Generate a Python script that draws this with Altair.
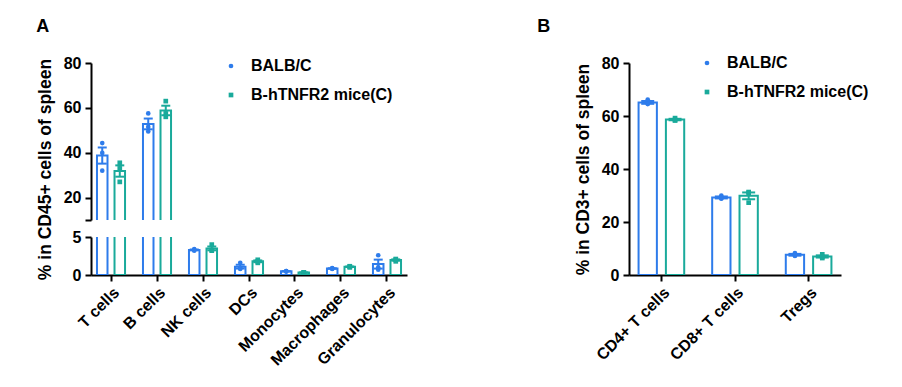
import altair as alt
import pandas as pd

# ---------------- data ----------------
groups = ["BALB/C", "B-hTNFR2 mice(C)"]
colors = ["#2E7CEB", "#1AAA9B"]
shapes = ["circle", "square"]

cells_a = ["T cells", "B cells", "NK cells", "DCs", "Monocytes", "Macrophages", "Granulocytes"]
balb_a = [[44.3, 39.9, 32.0], [57.5, 51.5, 49.5], [3.4, 3.3, 3.2], [1.6, 0.9, 0.8],
          [0.5, 0.5, 0.45], [0.9, 0.85, 0.8], [2.6, 1.0, 0.7]]
tnfr2_a = [[35.5, 33.0, 27.0], [63.0, 57.5, 56.0], [4.0, 3.3, 3.2], [2.0, 1.8, 1.6],
           [0.35, 0.3, 0.3], [1.15, 1.1, 1.0], [2.1, 2.0, 1.8]]

cells_b = ["CD4+ T cells", "CD8+ T cells", "Tregs"]
balb_b = [[66.2, 64.7, 64.5], [30.0, 29.0, 28.8], [8.3, 7.4, 7.2]]
tnfr2_b = [[59.2, 58.5, 58.3], [31.3, 31.0, 27.3], [7.8, 6.8, 6.4]]

upper_ticks_a = [10, 20, 40, 60, 80]
lower_ticks_a = [0, 5]
ticks_b = [0, 20, 40, 60, 80]


def to_long(cells, a, b):
    rows = []
    for c, va, vb in zip(cells, a, b):
        for v in va:
            rows.append({"cell": c, "group": groups[0], "value": v})
        for v in vb:
            rows.append({"cell": c, "group": groups[1], "value": v})
    return pd.DataFrame(rows)


df_a = to_long(cells_a, balb_a, tnfr2_a)
df_b = to_long(cells_b, balb_b, tnfr2_b)

FONT = "Liberation Sans"


def make_legend(lx, ly):
    return alt.Legend(orient="none", legendX=lx, legendY=ly, title=None,
                      labelFont=FONT, labelFontSize=16, labelFontWeight="bold",
                      labelColor="black", symbolSize=22, rowPadding=13,
                      labelOffset=12, padding=0, symbolStrokeWidth=0)


def panel(df, cells, y_domain, y_axis, x_axis, x_scale, off_scale, cap, legend, w, h):
    base = alt.Chart(df)
    x = alt.X("cell:N", sort=cells, scale=x_scale, axis=x_axis, title=None)
    xo = alt.XOffset("group:N", sort=groups, scale=off_scale)
    ys = alt.Scale(domain=y_domain, nice=False, zero=False)
    stats = base.transform_aggregate(
        mean="mean(value)", se="stderr(value)", groupby=["cell", "group"]
    ).transform_calculate(lo="datum.mean - datum.se", hi="datum.mean + datum.se")
    stroke = alt.Stroke("group:N", scale=alt.Scale(domain=groups, range=colors), legend=None)
    fill = alt.Fill("group:N", scale=alt.Scale(domain=groups, range=colors), legend=None)

    bars = stats.mark_bar(fill="white", strokeWidth=2, clip=True).encode(
        x=x, xOffset=xo, y=alt.Y("mean:Q", scale=ys, axis=y_axis),
        y2=alt.datum(0), stroke=stroke)
    rule = stats.mark_rule(strokeWidth=2, clip=True).encode(
        x=x, xOffset=xo, y=alt.Y("lo:Q", scale=ys, axis=y_axis), y2="hi:Q", stroke=stroke)
    caps = stats.transform_fold(["lo", "hi"], as_=["k", "v"]).mark_tick(
        thickness=2, size=cap, clip=True, opacity=1).encode(
        x=x, xOffset=xo, y=alt.Y("v:Q", scale=ys, axis=y_axis), fill=fill)
    pts = base.mark_point(filled=True, size=22, opacity=1, clip=True).encode(
        x=x, xOffset=xo, y=alt.Y("value:Q", scale=ys, axis=y_axis),
        color=alt.Color("group:N", scale=alt.Scale(domain=groups, range=colors), legend=legend),
        shape=alt.Shape("group:N", scale=alt.Scale(domain=groups, range=shapes), legend=legend))
    return alt.layer(bars, rule, caps, pts).properties(width=w, height=h)


axis_common = dict(domainColor="black", domainWidth=2, tickColor="black", tickWidth=2,
                   tickSize=6, labelFont=FONT, labelFontWeight="bold", labelColor="black",
                   grid=False)

ytitle_a = "% in CD45+ cells of spleen"
ytitle_b = "% in CD3+ cells of spleen"

y_axis_upper = alt.Axis(values=upper_ticks_a, labelExpr="datum.value == 10 ? '' : datum.label",
                        labelFontSize=16, labelPadding=4, title=ytitle_a, titleFont=FONT,
                        titleFontSize=17.5, titleFontWeight="bold", titleColor="black",
                        titleY=106, titlePadding=9, **axis_common)
y_axis_lower = alt.Axis(values=lower_ticks_a, labelFontSize=16, labelPadding=4, title=None,
                        **axis_common)
x_axis_a = alt.Axis(labelAngle=-45, labelFontSize=16, labelPadding=3, **axis_common)

xs_a = alt.Scale(paddingInner=0.39, paddingOuter=0.13)
off_a = alt.Scale(paddingInner=0.4, paddingOuter=0)

W_A = 316
upper = panel(df_a, cells_a, [10, 80], y_axis_upper, None, xs_a, off_a, 9,
              make_legend(132, -5), W_A, 157)
lower = panel(df_a, cells_a, [0, 5], y_axis_lower, x_axis_a, xs_a, off_a, 9,
              None, W_A, 38)

chart_a = alt.vconcat(upper, lower, spacing=17, bounds="flush").resolve_scale(
    y="independent", color="independent", shape="independent"
).properties(title=alt.TitleParams("A", anchor="start", frame="bounds", dx=0,
                                   fontSize=18, font=FONT, fontWeight="bold",
                                   color="black", offset=19))

y_axis_b = alt.Axis(values=ticks_b, labelFontSize=16, labelPadding=4, title=ytitle_b,
                    titleFont=FONT, titleFontSize=17.5, titleFontWeight="bold",
                    titleColor="black", titlePadding=9, **axis_common)
x_axis_b = alt.Axis(labelAngle=-45, labelFontSize=16, labelPadding=3, **axis_common)
xs_b = alt.Scale(paddingInner=0.38, paddingOuter=0.13)
off_b = alt.Scale(paddingInner=0.33, paddingOuter=0)

panel_b = panel(df_b, cells_b, [0, 80], y_axis_b, x_axis_b, xs_b, off_b, 13,
                make_legend(70, -8), 212, 212)
chart_b = alt.vconcat(panel_b, bounds="flush").resolve_scale(
    color="independent", shape="independent"
).properties(
    title=alt.TitleParams("B", anchor="start", frame="bounds", dx=-37,
                          fontSize=18, font=FONT, fontWeight="bold",
                          color="black", offset=19))

chart = alt.hconcat(chart_a, chart_b, spacing=130).resolve_scale(
    x="independent", y="independent", xOffset="independent",
    color="independent", shape="independent", stroke="independent", fill="independent"
).properties(
    padding={"left": 28, "top": 10, "right": 5, "bottom": 5},
    background="white"
).configure_view(strokeWidth=0, stroke="transparent")

chart.save("out.html", embed_options={"renderer": "svg", "actions": False})
